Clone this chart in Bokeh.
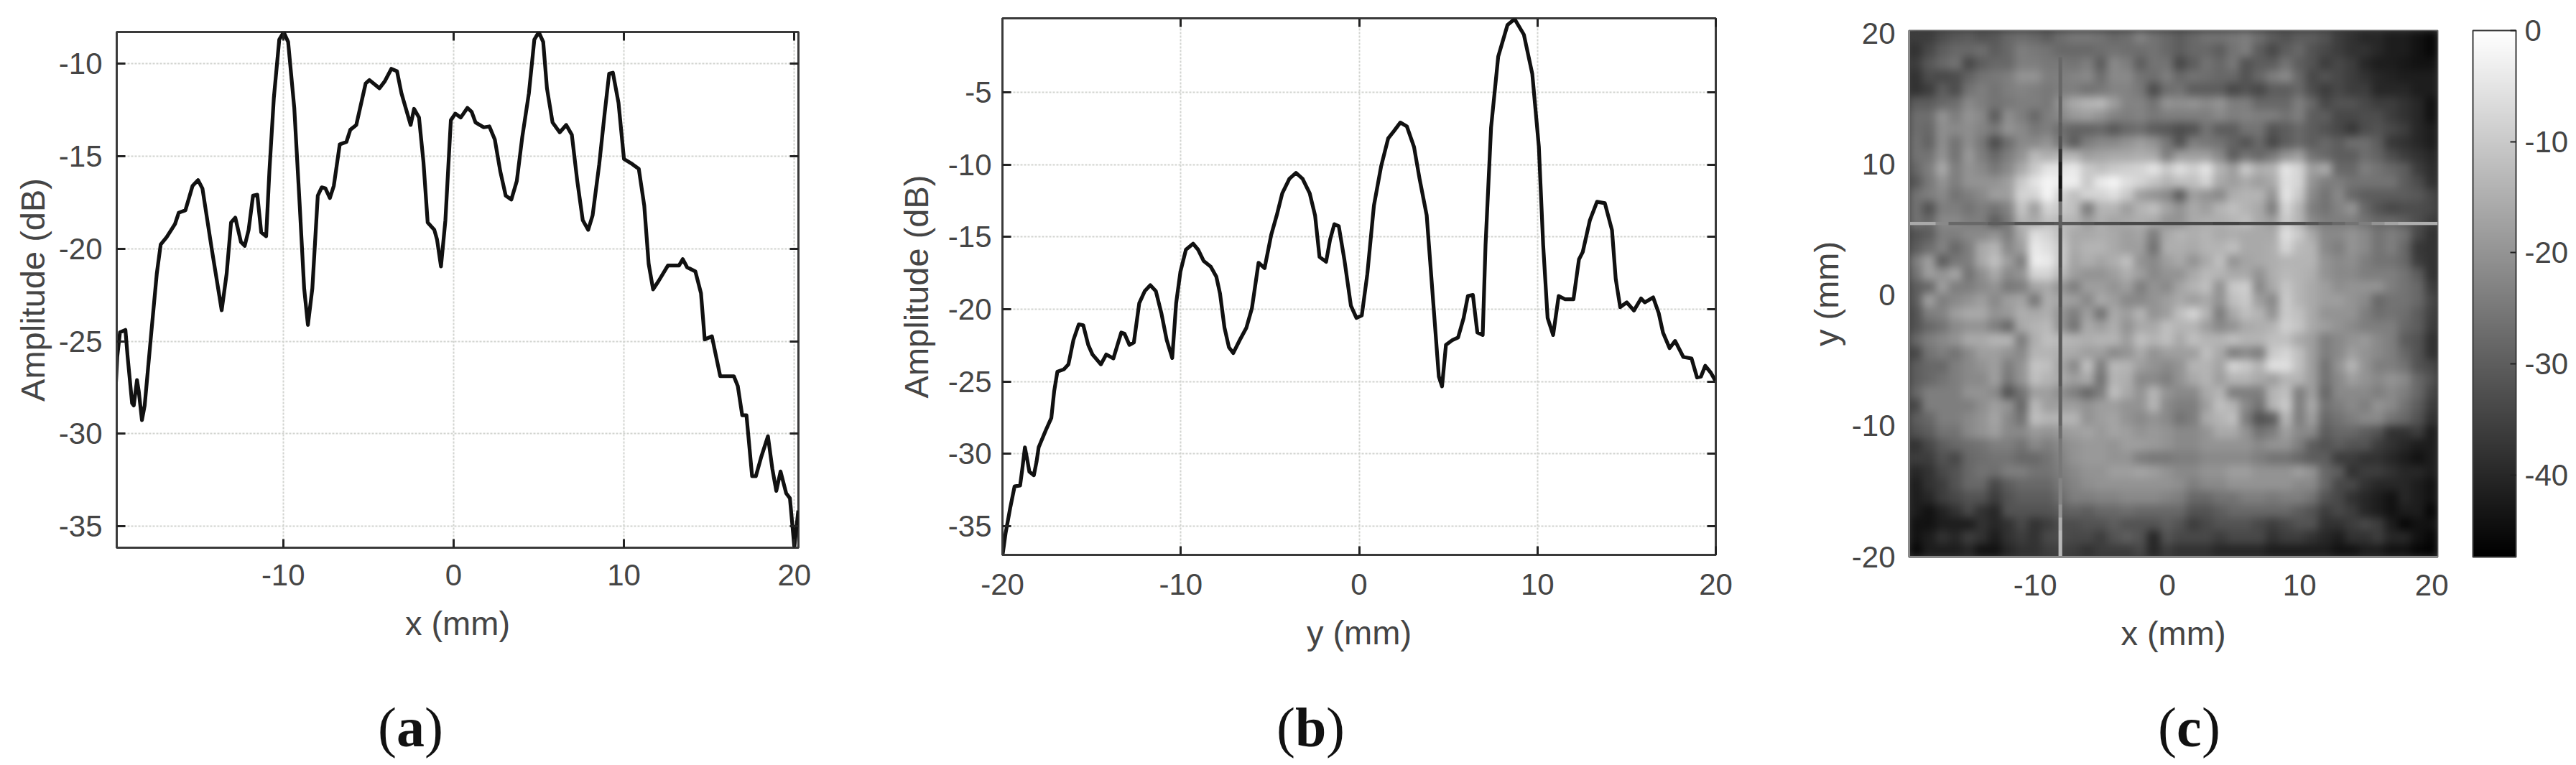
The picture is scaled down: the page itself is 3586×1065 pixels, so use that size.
from bokeh.document import Document
from bokeh.embed import file_html
from bokeh.resources import INLINE
from bokeh.layouts import row, column
from bokeh.plotting import figure
from bokeh.models import (ColorBar, CustomJS, FixedTicker, Label, LinearAxis, LinearColorMapper, Range1d)
from bokeh.palettes import gray
import numpy as np

# ---- panel (a) ----
a_x = [-19.84,-19.74,-19.58,-19.26,-19.13,-18.87,-18.77,-18.58,-18.48,-18.29,-18.13,-17.74,-17.42,-17.19,-16.84,-16.35,-16.13,-15.74,-15.32,-15.0,-14.74,-14.19,-13.61,-13.32,-13.06,-12.81,-12.48,-12.26,-12.03,-11.77,-11.52,-11.29,-11.0,-10.81,-10.55,-10.23,-9.97,-9.71,-9.35,-9.03,-8.77,-8.55,-8.29,-7.97,-7.74,-7.52,-7.26,-7.03,-6.68,-6.29,-6.06,-5.71,-5.16,-4.94,-4.35,-4.03,-3.65,-3.32,-3.06,-2.81,-2.52,-2.32,-2.03,-1.77,-1.52,-1.13,-0.97,-0.74,-0.48,-0.16,0.10,0.42,0.81,1.06,1.29,1.77,2.10,2.42,2.74,3.06,3.39,3.71,4.03,4.42,4.74,5.0,5.26,5.48,5.81,6.23,6.61,6.94,7.26,7.58,7.90,8.16,8.55,8.87,9.13,9.35,9.68,10.0,10.48,10.87,11.19,11.45,11.71,12.03,12.58,13.23,13.45,13.71,14.19,14.52,14.74,15.16,15.65,16.45,16.68,16.94,17.19,17.52,17.74,18.06,18.45,18.71,18.94,19.19,19.52,19.74,20.0,20.23]
a_amp = [-27.68,-25.84,-24.52,-24.39,-25.84,-28.34,-28.47,-27.10,-27.68,-29.26,-28.47,-24.52,-21.36,-19.78,-19.38,-18.67,-18.06,-17.93,-16.61,-16.30,-16.75,-20.04,-23.33,-21.36,-18.59,-18.33,-19.64,-19.85,-18.99,-17.14,-17.09,-19.12,-19.33,-15.82,-11.87,-8.71,-8.31,-8.84,-12.40,-17.67,-22.15,-24.12,-22.15,-17.14,-16.69,-16.75,-17.27,-16.61,-14.37,-14.24,-13.58,-13.32,-11.08,-10.90,-11.34,-10.95,-10.29,-10.42,-11.61,-12.40,-13.32,-12.45,-12.92,-15.30,-18.59,-18.99,-19.51,-20.96,-18.46,-13.06,-12.71,-12.92,-12.40,-12.61,-13.19,-13.45,-13.40,-14.11,-15.82,-17.14,-17.35,-16.35,-13.98,-11.61,-8.71,-8.31,-8.84,-11.34,-13.19,-13.72,-13.32,-13.85,-16.35,-18.46,-18.99,-18.20,-15.43,-12.66,-10.55,-10.50,-12.13,-15.16,-15.43,-15.69,-17.67,-20.83,-22.20,-21.75,-20.91,-20.91,-20.57,-21.01,-21.23,-22.41,-24.91,-24.73,-26.89,-26.89,-27.42,-29.0,-29.0,-32.29,-32.29,-31.24,-30.13,-31.90,-33.08,-32.03,-33.21,-33.48,-36.11,-34.14]
a_xticks = [-10, 0, 10, 20]
a_yticks = [-35, -30, -25, -20, -15, -10]

# ---- panel (b) ----
b_y = [-20.0,-19.82,-19.57,-19.32,-19.01,-18.89,-18.74,-18.61,-18.49,-18.24,-18.09,-17.97,-17.57,-17.26,-17.10,-16.92,-16.55,-16.30,-16.02,-15.72,-15.47,-15.19,-14.95,-14.48,-14.18,-13.78,-13.34,-13.16,-12.88,-12.63,-12.33,-12.02,-11.71,-11.40,-11.09,-10.79,-10.48,-10.26,-10.02,-9.71,-9.31,-9.03,-8.72,-8.32,-8.01,-7.80,-7.55,-7.30,-7.06,-6.69,-6.32,-6.01,-5.64,-5.30,-4.93,-4.62,-4.31,-3.91,-3.54,-3.17,-2.77,-2.47,-2.22,-1.85,-1.63,-1.39,-1.14,-0.83,-0.46,-0.15,0.15,0.46,0.83,1.23,1.63,1.94,2.31,2.68,3.08,3.39,3.79,4.16,4.47,4.65,4.87,5.24,5.55,5.86,6.10,6.38,6.63,6.93,7.09,7.40,7.80,8.32,8.72,9.24,9.71,10.08,10.32,10.57,10.88,11.19,11.56,12.02,12.33,12.54,12.94,13.34,13.78,14.18,14.39,14.64,15.01,15.41,15.81,16.02,16.49,16.80,17.04,17.41,17.72,18.18,18.64,18.95,19.17,19.41,19.72,19.97]
b_amp = [-37.06,-35.47,-33.78,-32.26,-32.2,-31.08,-29.56,-30.41,-31.25,-31.49,-30.57,-29.56,-28.38,-27.53,-25.68,-24.32,-24.16,-23.82,-22.13,-21.05,-21.11,-22.47,-23.14,-23.82,-23.14,-23.41,-21.62,-21.69,-22.47,-22.30,-19.59,-18.75,-18.34,-18.75,-20.27,-22.13,-23.38,-19.59,-17.40,-15.88,-15.47,-15.88,-16.66,-17.06,-17.74,-18.92,-21.28,-22.64,-23.04,-22.13,-21.28,-19.93,-16.79,-17.16,-14.86,-13.51,-11.99,-10.98,-10.57,-10.98,-11.99,-13.51,-16.39,-16.72,-15.20,-14.12,-14.26,-16.55,-19.76,-20.61,-20.44,-17.57,-12.84,-10.14,-8.18,-7.70,-7.09,-7.36,-8.78,-10.98,-13.51,-19.59,-24.66,-25.34,-22.47,-22.13,-21.96,-20.61,-19.09,-19.02,-21.62,-21.79,-15.54,-7.43,-2.53,-0.34,0.07,-1.01,-3.72,-8.78,-15.54,-20.61,-21.79,-19.09,-19.32,-19.32,-16.55,-16.05,-13.85,-12.57,-12.67,-14.53,-17.91,-19.86,-19.53,-20.10,-19.26,-19.53,-19.19,-20.27,-21.62,-22.70,-22.20,-23.31,-23.41,-24.73,-24.66,-23.92,-24.39,-24.93]
b_xticks = [-20, -10, 0, 10, 20]
b_yticks = [-35, -30, -25, -20, -15, -10, -5]

# ---- panel (c): amplitude in dB, top row first ----
heat_rows = [
[-36,-36,-33,-31,-30,-32,-31,-28,-27,-28,-30,-27,-25,-25,-26,-28,-27,-23,-26,-28,-30,-28,-26,-26,-25,-24,-27,-30,-32,-30,-30,-32,-36,-38,-40,-40,-42,-42,-44,-46],
[-38,-34,-30,-28,-28,-27,-30,-28,-24,-25,-26,-28,-28,-28,-27,-26,-27,-27,-26,-28,-30,-28,-28,-30,-26,-24,-30,-34,-30,-28,-32,-34,-36,-38,-38,-40,-42,-42,-44,-46],
[-36,-31,-28,-26,-34,-30,-28,-28,-24,-24,-25,-25,-26,-24,-30,-22,-24,-30,-26,-26,-34,-30,-26,-28,-25,-32,-30,-30,-26,-30,-32,-36,-34,-36,-40,-42,-42,-43,-44,-44],
[-38,-33,-34,-33,-29,-26,-25,-24,-20,-20,-24,-24,-23,-22,-27,-22,-22,-26,-27,-24,-28,-26,-27,-28,-28,-32,-28,-24,-22,-28,-34,-32,-34,-36,-38,-40,-41,-42,-42,-42],
[-38,-36,-30,-33,-26,-24,-26,-24,-23,-24,-25,-24,-24,-26,-25,-23,-23,-25,-33,-27,-26,-30,-30,-30,-34,-32,-34,-30,-30,-28,-33,-36,-34,-36,-36,-40,-40,-40,-42,-42],
[-30,-30,-28,-27,-22,-24,-26,-25,-24,-24,-25,-20,-16,-14,-13,-18,-23,-23,-26,-20,-21,-20,-22,-20,-24,-24,-28,-28,-28,-24,-28,-34,-32,-32,-34,-36,-36,-38,-40,-44],
[-27,-27,-20,-24,-20,-22,-30,-21,-24,-28,-24,-22,-19,-18,-20,-23,-24,-23,-25,-24,-24,-24,-24,-22,-24,-23,-24,-24,-26,-24,-30,-30,-34,-34,-33,-33,-36,-38,-40,-44],
[-27,-28,-21,-22,-21,-23,-25,-20,-22,-25,-24,-27,-29,-29,-28,-31,-28,-27,-30,-31,-33,-32,-26,-30,-30,-26,-26,-32,-30,-28,-30,-32,-34,-37,-33,-32,-34,-36,-40,-42],
[-26,-29,-21,-26,-21,-25,-33,-27,-22,-22,-20,-25,-30,-24,-22,-22,-20,-18,-20,-25,-32,-24,-25,-26,-29,-32,-28,-34,-30,-28,-30,-28,-30,-27,-27,-30,-37,-38,-40,-42],
[-26,-26,-20,-26,-19,-24,-28,-24,-20,-13,-15,-14,-14,-18,-17,-16,-16,-15,-16,-24,-18,-18,-18,-22,-30,-26,-28,-25,-20,-18,-26,-28,-30,-30,-27,-29,-33,-36,-38,-40],
[-28,-24,-16,-24,-20,-22,-25,-22,-16,-10,-5,-5,-4,-10,-12,-10,-9,-8,-5,-10,-6,-9,-5,-14,-18,-10,-15,-14,-5,-8,-18,-16,-28,-28,-24,-26,-28,-30,-36,-39],
[-31,-25,-20,-24,-20,-20,-20,-18,-10,-5,-2,-3,-3,-10,-4,-2,-6,-8,-11,-14,-12,-12,-8,-16,-18,-16,-18,-16,-6,-8,-20,-24,-24,-26,-26,-26,-26,-30,-33,-38],
[-26,-24,-22,-26,-24,-22,-18,-18,-8,-8,-2,-8,-12,-8,-8,-6,-10,-18,-20,-22,-30,-18,-20,-22,-15,-14,-14,-20,-5,-10,-22,-26,-22,-28,-30,-30,-30,-30,-31,-34],
[-26,-32,-24,-24,-26,-24,-26,-23,-11,-18,-8,-10,-12,-24,-14,-14,-18,-14,-12,-17,-20,-16,-18,-14,-12,-14,-16,-24,-8,-14,-24,-26,-23,-20,-28,-32,-34,-33,-33,-34],
[-26,-28,-22,-22,-24,-24,-30,-25,-14,-16,-12,-13,-14,-18,-15,-17,-16,-15,-16,-20,-20,-16,-15,-15,-14,-12,-16,-18,-10,-14,-22,-24,-24,-24,-26,-28,-28,-30,-33,-36],
[-32,-30,-24,-24,-22,-22,-20,-24,-16,-6,-8,-12,-16,-16,-15,-16,-18,-17,-24,-16,-14,-15,-14,-16,-15,-16,-16,-16,-6,-10,-16,-22,-22,-20,-22,-26,-24,-26,-34,-38],
[-30,-27,-23,-28,-24,-16,-14,-22,-18,-4,-6,-10,-16,-14,-14,-16,-18,-18,-26,-15,-15,-16,-14,-14,-12,-16,-16,-15,-8,-13,-14,-22,-24,-20,-22,-26,-24,-28,-37,-38],
[-24,-18,-30,-25,-24,-16,-12,-18,-24,-3,-4,-10,-17,-15,-17,-15,-12,-20,-22,-18,-16,-20,-16,-12,-20,-17,-16,-15,-14,-14,-14,-20,-22,-21,-24,-26,-26,-28,-36,-38],
[-26,-18,-20,-17,-26,-21,-16,-22,-20,-8,-8,-13,-18,-20,-20,-18,-15,-18,-22,-20,-20,-16,-13,-14,-16,-16,-20,-15,-13,-14,-15,-20,-22,-22,-24,-24,-24,-26,-30,-38],
[-30,-28,-18,-24,-24,-22,-20,-25,-24,-17,-16,-20,-24,-18,-18,-20,-18,-24,-20,-22,-17,-14,-12,-20,-10,-9,-22,-16,-11,-14,-16,-18,-21,-20,-20,-20,-24,-26,-28,-36],
[-30,-18,-24,-22,-20,-18,-22,-18,-17,-25,-15,-17,-18,-22,-16,-18,-22,-22,-20,-18,-16,-18,-16,-20,-12,-10,-18,-22,-10,-14,-16,-18,-18,-20,-22,-28,-26,-26,-28,-34],
[-32,-24,-23,-18,-16,-16,-20,-19,-15,-16,-15,-20,-24,-18,-26,-16,-18,-14,-20,-18,-12,-8,-14,-24,-16,-12,-14,-20,-10,-12,-16,-20,-20,-20,-24,-27,-26,-27,-30,-35],
[-32,-28,-26,-22,-20,-20,-24,-28,-16,-14,-13,-20,-26,-16,-18,-15,-20,-16,-16,-12,-14,-14,-18,-22,-20,-16,-15,-14,-9,-11,-16,-18,-20,-22,-24,-24,-24,-28,-30,-36],
[-28,-24,-22,-20,-16,-16,-14,-14,-24,-15,-12,-13,-14,-15,-14,-14,-18,-12,-14,-12,-16,-12,-14,-14,-12,-14,-14,-12,-12,-16,-18,-24,-22,-20,-19,-22,-24,-30,-32,-38],
[-34,-26,-24,-26,-22,-18,-18,-20,-22,-14,-14,-15,-16,-18,-18,-22,-20,-16,-20,-18,-18,-18,-12,-16,-24,-22,-24,-10,-8,-12,-18,-24,-22,-18,-20,-22,-24,-28,-32,-38],
[-30,-28,-28,-24,-22,-20,-18,-24,-20,-11,-12,-17,-22,-12,-24,-13,-14,-18,-20,-22,-20,-14,-14,-17,-8,-10,-14,-6,-6,-12,-18,-26,-20,-14,-20,-24,-24,-26,-32,-34],
[-30,-28,-26,-24,-22,-22,-18,-25,-20,-12,-14,-16,-18,-16,-26,-14,-15,-22,-22,-24,-20,-16,-14,-18,-14,-14,-16,-18,-14,-14,-18,-26,-22,-18,-20,-22,-20,-22,-28,-32],
[-28,-24,-24,-24,-20,-20,-22,-32,-26,-18,-18,-21,-24,-28,-24,-12,-16,-20,-14,-20,-22,-22,-16,-14,-24,-24,-24,-14,-12,-24,-18,-28,-22,-22,-22,-24,-22,-24,-28,-34],
[-34,-24,-24,-24,-24,-21,-18,-20,-28,-13,-18,-18,-18,-20,-18,-18,-20,-20,-14,-22,-24,-24,-18,-12,-14,-22,-26,-14,-10,-24,-16,-26,-24,-22,-24,-20,-22,-26,-30,-36],
[-30,-28,-24,-24,-22,-20,-17,-22,-26,-12,-14,-14,-14,-20,-18,-17,-20,-22,-20,-22,-26,-24,-16,-14,-12,-24,-32,-30,-14,-24,-18,-28,-26,-24,-22,-22,-26,-28,-32,-38],
[-32,-30,-26,-26,-22,-20,-18,-22,-22,-19,-20,-19,-18,-17,-19,-17,-18,-20,-19,-20,-22,-22,-20,-16,-16,-20,-26,-24,-18,-22,-22,-30,-28,-28,-30,-32,-38,-38,-36,-42],
[-38,-34,-30,-28,-27,-26,-24,-24,-26,-22,-24,-22,-20,-19,-19,-20,-18,-18,-19,-20,-22,-22,-20,-20,-20,-20,-22,-20,-20,-24,-30,-32,-30,-32,-32,-36,-38,-40,-42,-42],
[-36,-36,-32,-34,-28,-27,-26,-26,-28,-28,-26,-23,-20,-19,-19,-20,-20,-24,-25,-25,-24,-24,-22,-22,-22,-22,-24,-26,-26,-28,-30,-30,-36,-36,-38,-38,-40,-42,-44,-42],
[-40,-38,-34,-32,-28,-26,-27,-24,-24,-26,-26,-24,-22,-20,-20,-18,-18,-17,-18,-20,-22,-22,-20,-20,-18,-18,-20,-20,-20,-18,-20,-28,-30,-38,-36,-36,-38,-40,-40,-42],
[-42,-38,-36,-32,-28,-28,-34,-30,-28,-28,-28,-25,-23,-21,-20,-20,-20,-20,-20,-20,-21,-24,-22,-22,-20,-20,-20,-20,-20,-22,-22,-28,-34,-34,-38,-40,-40,-40,-42,-44],
[-42,-40,-36,-34,-32,-32,-36,-32,-30,-30,-30,-27,-24,-24,-23,-23,-22,-22,-22,-23,-24,-28,-28,-26,-26,-24,-24,-25,-24,-24,-26,-32,-34,-38,-40,-42,-44,-40,-42,-44],
[-42,-44,-41,-38,-34,-38,-40,-32,-32,-32,-32,-30,-29,-30,-28,-28,-27,-28,-28,-28,-28,-32,-32,-30,-28,-28,-28,-28,-28,-30,-32,-36,-34,-36,-40,-42,-44,-42,-42,-46],
[-44,-44,-42,-42,-42,-38,-40,-38,-34,-38,-36,-33,-33,-32,-32,-30,-32,-32,-32,-30,-32,-36,-34,-32,-32,-32,-34,-36,-34,-32,-32,-38,-38,-36,-34,-36,-42,-46,-44,-44],
[-44,-42,-38,-40,-36,-38,-42,-38,-36,-38,-34,-33,-34,-34,-36,-32,-30,-32,-40,-32,-34,-34,-34,-36,-34,-34,-34,-38,-36,-36,-38,-40,-42,-38,-38,-36,-40,-40,-44,-46],
[-46,-42,-42,-42,-40,-44,-44,-40,-38,-38,-36,-35,-36,-38,-36,-36,-36,-34,-40,-36,-38,-38,-38,-40,-40,-40,-40,-42,-42,-42,-42,-42,-44,-44,-42,-42,-44,-44,-46,-47],
]
# thin cut lines: along x (left to right) and along y (top to bottom)
cut_h = [-16,-16,-22,-28,-28,-28,-30,-30,-32,-32,-32,-31,-31,-32,-33,-33,-34,-34,-34,-34,-34,-34,-34,-35,-35,-34,-34,-34,-33,-33,-32,-30,-28,-26,-24,-20,-17,-15,-15,-15]
cut_v = [None,None,-28,-28,-28,-29,-29,-30,-32,-38,-42,-44,-40,-26,-30,-33,-33,-33,-32,-32,-32,-31,-31,-31,-31,-31,-31,-29,-29,-29,-27,-25,-25,-25,-23,-23,-20,-15,-13,-13]
c_xticks = [-10, 0, 10, 20]
c_yticks = [-20, -10, 0, 10, 20]
bar_ticks = [-40, -30, -20, -10, 0]
bar_low, bar_high = -47.4, 0
cut_x_pos, cut_y_pos = -8.1, 5.46

TXT = "#454545"
FONT = "Liberation Sans"
FRAME = "#3a3a3a"
MAIN_H = 960
CAP_H = 100


def labels_of(ticks):
    return {t: str(t) for t in ticks}


def style_axes(ax, ticks, size, standoff, label_standoff):
    ax.ticker = FixedTicker(ticks=ticks)
    ax.major_label_overrides = labels_of(ticks)
    ax.minor_tick_line_color = None
    ax.major_tick_in = 12
    ax.major_tick_out = 0
    ax.major_tick_line_color = "#222222"
    ax.major_tick_line_width = 3
    ax.axis_line_color = FRAME
    ax.axis_line_width = 3
    ax.major_label_text_font = FONT
    ax.major_label_text_font_size = size
    ax.major_label_text_color = TXT
    ax.major_label_standoff = standoff
    ax.axis_label_text_font = FONT
    ax.axis_label_text_font_size = "47px"
    ax.axis_label_text_font_style = "normal"
    ax.axis_label_text_color = TXT
    ax.axis_label_standoff = label_standoff


def blank_axis(ticks):
    ax = LinearAxis(ticker=FixedTicker(ticks=ticks), major_label_overrides={t: "" for t in ticks})
    ax.axis_line_color = None
    ax.minor_tick_line_color = None
    ax.major_tick_in = 12
    ax.major_tick_out = 0
    ax.major_tick_line_color = "#222222"
    ax.major_tick_line_width = 3
    ax.major_label_standoff = 0
    return ax


def caption_fig(letter, w, left, right, centre_offset, letter_w):
    """A text-only strip under a panel; its frame lines up with the panel's frame."""
    fw = w - left - right
    p = figure(width=w, height=CAP_H, output_backend="svg", toolbar_location=None,
               x_range=Range1d(0, fw), y_range=Range1d(0, CAP_H),
               x_axis_location=None, y_axis_location=None,
               min_border_left=left, min_border_right=right, min_border_top=0, min_border_bottom=0)
    p.grid.visible = False
    p.outline_line_color = None
    base = dict(y=48, text_baseline="middle", text_font="Liberation Serif",
                text_font_size="78px", text_color="#111111")
    start = centre_offset - (52 + letter_w) / 2
    p.add_layout(Label(x=start, text="(", **base))
    p.add_layout(Label(x=start + 26, text=letter, text_font_style="bold", **base))
    p.add_layout(Label(x=start + 26 + letter_w, text=")", **base))
    return p


def line_panel(x, y, xr, yr, xt, yt, xlabel, w, left, right, top, bottom, label_y_standoff, tick_y_standoff, x_standoff):
    p = figure(width=w, height=MAIN_H, output_backend="svg", toolbar_location=None,
               x_range=Range1d(*xr), y_range=Range1d(*yr), x_axis_label=xlabel,
               y_axis_label="Amplitude (dB)",
               min_border_left=left, min_border_right=right, min_border_top=top, min_border_bottom=bottom)
    style_axes(p.xaxis[0], xt, "42px", x_standoff, 23)
    style_axes(p.yaxis[0], yt, "42px", tick_y_standoff, label_y_standoff)
    p.add_layout(blank_axis(yt), "right")
    p.add_layout(blank_axis(xt), "above")
    p.xgrid.ticker = FixedTicker(ticks=xt)
    p.ygrid.ticker = FixedTicker(ticks=yt)
    for g in (p.xgrid[0], p.ygrid[0]):
        g.grid_line_color = "#d2d4d0"
        g.grid_line_width = 2
        g.grid_line_dash = [3, 2]
    p.outline_line_color = FRAME
    p.outline_line_width = 3
    p.line(x, y, line_color="#111111", line_width=5.2, line_join="round")
    return p


pa = line_panel(a_x, a_amp, (-19.77, 20.24), (-36.15, -8.3), a_xticks, a_yticks, "x (mm)",
                1240, 162, 129, 44, MAIN_H - 762, 7, 20, 23)
ca = caption_fig("a", 1240, 162, 129, 571 - 162, 39)
pb = line_panel(b_y, b_amp, (-20, 20), (-37, 0.12), b_xticks, b_yticks, "y (mm)",
                1270, 155, 122, 25, MAIN_H - 772, 15, 15, 26)
cbf = caption_fig("b", 1270, 155, 122, 1824 - 1395, 43)

mapper = LinearColorMapper(palette=gray(256), low=bar_low, high=bar_high, nan_color=(0, 0, 0, 0))
xr = (-19.55, 20.45)
yr = (-20.02, 20.2)
pc = figure(width=1074, height=MAIN_H, output_backend="svg", toolbar_location=None,
            x_range=Range1d(*xr), y_range=Range1d(*yr), x_axis_label="x (mm)", y_axis_label="y (mm)",
            min_border_left=147, min_border_right=191, min_border_top=42, min_border_bottom=MAIN_H - 775,
            background_fill_color="#3c3c3c")
pc.grid.visible = False
style_axes(pc.xaxis[0], c_xticks, "42px", 24, 23)
style_axes(pc.yaxis[0], c_yticks, "42px", 19, 6)
for ax in (pc.xaxis[0], pc.yaxis[0]):
    ax.major_tick_in = 0
    ax.axis_line_color = "#8a8a8a"
pc.outline_line_color = "#777777"
pc.outline_line_width = 2

heat = np.array(heat_rows, dtype=float)[::-1]
pc.image(image=[heat], x=xr[0], y=yr[0], dw=xr[1] - xr[0], dh=yr[1] - yr[0], color_mapper=mapper)
h_line = np.array([cut_h], dtype=float)
v_line = np.array(cut_v, dtype=float)[::-1].reshape(-1, 1)
pc.image(image=[h_line], x=xr[0], y=cut_y_pos - 0.12, dw=xr[1] - xr[0], dh=0.24, color_mapper=mapper)
pc.image(image=[v_line], x=cut_x_pos - 0.14, y=yr[0], dw=0.28, dh=yr[1] - yr[0], color_mapper=mapper)

cb = ColorBar(color_mapper=mapper, ticker=FixedTicker(ticks=bar_ticks), width=60, height=733,
              location=(49, 0), margin=0, padding=0, major_label_overrides=labels_of(bar_ticks),
              major_tick_line_color="#222222", major_tick_line_width=2, major_tick_in=8,
              minor_tick_line_color=None, bar_line_color=FRAME, bar_line_width=2,
              major_label_text_font=FONT, major_label_text_font_size="42px",
              major_label_text_color=TXT, label_standoff=12)
pc.add_layout(cb, "right")
ccf = caption_fig("c", 1074, 147, 191, 3047 - 2657, 35)

# soften the read grid in the browser: the original map is a smooth picture, not hard blocks
smooth = CustomJS(code="""
function walk(root){
  root.querySelectorAll('*').forEach(e=>{
    if(e.tagName.toLowerCase()==='image'){
      const r=e.getBoundingClientRect();
      e.style.imageRendering='auto';
      if(r.width>400 && r.height>400){e.style.filter='blur(6px)';}
    }
    if(e.shadowRoot){walk(e.shadowRoot);}
  });
}
[50,300,800,1500,3000].forEach(t=>setTimeout(()=>walk(document),t));
""")

layout = row(column(pa, ca), column(pb, cbf), column(pc, ccf))
doc = Document()
doc.add_root(layout)
doc.js_on_event("document_ready", smooth)
open("out.html", "w").write(file_html(doc, INLINE))
